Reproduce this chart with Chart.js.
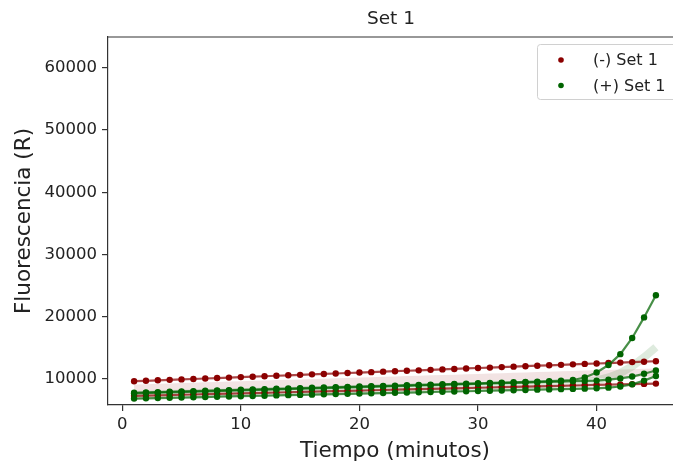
<!DOCTYPE html>
<html><head><meta charset="utf-8">
<script src="https://cdn.jsdelivr.net/npm/chart.js@4"></script>
<style>html,body{margin:0;padding:0;overflow:hidden;background:#fff;width:673px;height:462px}canvas{display:block}</style>
</head><body><canvas id="c" width="690" height="462" style="width:690px;height:462px"></canvas>
<script>
const time = [1,2,3,4,5,6,7,8,9,10,11,12,13,14,15,16,17,18,19,20,21,22,23,24,25,26,27,28,29,30,31,32,33,34,35,36,37,38,39,40,41,42,43,44,45];
const negSet1A = [9650,9720,9800,9870,9940,10010,10090,10160,10230,10310,10380,10450,10530,10600,10670,10750,10820,10890,10970,11040,11110,11190,11260,11330,11400,11480,11550,11620,11700,11770,11840,11920,11990,12060,12140,12210,12280,12360,12430,12500,12570,12640,12720,12790,12860];
const negSet1B = [7300,7340,7390,7430,7480,7520,7570,7610,7660,7700,7750,7790,7840,7880,7930,7970,8020,8060,8110,8150,8200,8240,8290,8330,8380,8420,8460,8510,8550,8600,8640,8690,8730,8780,8820,8870,8910,8960,9000,9050,9090,9130,9180,9220,9270];
const posSet1A = [7800,7850,7900,7960,8010,8060,8110,8170,8220,8270,8320,8380,8430,8480,8530,8590,8640,8690,8740,8800,8850,8900,8950,9010,9060,9110,9160,9220,9270,9320,9370,9430,9480,9530,9590,9650,9730,9850,10250,11050,12250,14000,16600,19900,23470];
const posSet1B = [7700,7750,7810,7860,7910,7960,8020,8070,8120,8170,8230,8280,8330,8380,8440,8490,8540,8590,8650,8700,8750,8800,8860,8910,8960,9020,9070,9120,9170,9230,9280,9330,9380,9440,9490,9540,9590,9650,9700,9750,9900,10100,10400,10850,11370];
const posSet1C = [6860,6900,6940,6990,7030,7070,7110,7160,7200,7240,7280,7320,7370,7410,7450,7490,7540,7580,7620,7660,7700,7750,7790,7830,7870,7920,7960,8000,8040,8080,8130,8170,8210,8250,8300,8340,8380,8420,8460,8510,8620,8800,9150,9750,10500];
const xTicks = [0,10,20,30,40];
const yTicks = [10000,20000,30000,40000,50000,60000];
const legendLabels = ['(-) Set 1','(+) Set 1'];
const titleText = 'Set 1';
const xTitle = 'Tiempo (minutos)';
const yTitle = 'Fluorescencia (R)';

const RED = 'rgb(139,0,0)', GREEN = 'rgb(0,100,0)';
const FONT = '"DejaVu Sans", sans-serif';
const TXT = '#222';
const AX = '#333';

const pts = arr => time.map((t,i)=>({x:t,y:arr[i]}));
const mean = arrs => time.map((t,i)=>({x:t,y:arrs.reduce((s,a)=>s+a[i],0)/arrs.length}));

function seriesDs(arr, col, lineCol, order){
  return {data:pts(arr), borderColor:lineCol, backgroundColor:col, pointBackgroundColor:col,
    pointBorderWidth:0, pointRadius:3.2, borderWidth:2.2, tension:0, order:order, fill:false};
}
function meanDs(arrs, col){
  return {data:mean(arrs), borderColor:col, borderWidth:8, pointRadius:0, tension:0, order:10, fill:false, borderCapStyle:'butt'};
}

const frame = {
  id:'frame',
  afterDraw(chart){
    const {ctx, chartArea:a} = chart;
    ctx.save();
    ctx.strokeStyle = AX; ctx.lineWidth = 1.2;
    ctx.beginPath();
    ctx.moveTo(a.left, a.top); ctx.lineTo(a.right, a.top);
    ctx.stroke();
    // title
    ctx.fillStyle = TXT; ctx.font = '18.5px ' + FONT;
    ctx.textAlign = 'center'; ctx.textBaseline = 'middle';
    ctx.fillText(titleText, 391, 19);
    // legend
    const bx = 537.5, by = 44.5, bw = 145, bh = 55, r = 3;
    ctx.beginPath();
    ctx.moveTo(bx + r, by); ctx.lineTo(bx + bw - r, by); ctx.arcTo(bx+bw, by, bx+bw, by+r, r);
    ctx.lineTo(bx+bw, by+bh-r); ctx.arcTo(bx+bw, by+bh, bx+bw-r, by+bh, r);
    ctx.lineTo(bx+r, by+bh); ctx.arcTo(bx, by+bh, bx, by+bh-r, r);
    ctx.lineTo(bx, by+r); ctx.arcTo(bx, by, bx+r, by, r);
    ctx.closePath();
    ctx.fillStyle = 'rgba(255,255,255,0.85)'; ctx.fill();
    ctx.strokeStyle = '#d0d0d0'; ctx.lineWidth = 1; ctx.stroke();
    const cols = [RED, GREEN], ys = [60, 85.5];
    ctx.font = '16px ' + FONT; ctx.textAlign = 'left'; ctx.textBaseline = 'middle';
    for (let i = 0; i < 2; i++){
      ctx.fillStyle = cols[i];
      ctx.beginPath(); ctx.arc(561, ys[i], 2.8, 0, Math.PI*2); ctx.fill();
      ctx.fillStyle = TXT; ctx.fillText(legendLabels[i], 593, ys[i] + 1);
    }
    ctx.restore();
  }
};

new Chart(document.getElementById('c'), {
  type:'line',
  data:{datasets:[
    seriesDs(posSet1A, GREEN, 'rgba(0,100,0,0.72)', 1),
    seriesDs(posSet1B, GREEN, 'rgba(0,100,0,0.72)', 1),
    seriesDs(posSet1C, GREEN, 'rgba(0,100,0,0.72)', 1),
    seriesDs(negSet1A, RED, 'rgba(139,0,0,0.72)', 5),
    seriesDs(negSet1B, RED, 'rgba(139,0,0,0.72)', 5),
    meanDs([posSet1A,posSet1B,posSet1C], 'rgba(0,100,0,0.13)'),
    meanDs([negSet1A,negSet1B], 'rgba(139,0,0,0.11)')
  ]},
  options:{
    responsive:false, animation:false, devicePixelRatio:1,
    layout:{padding:{left:0, right:8, top:37, bottom:0}},
    plugins:{legend:{display:false}, tooltip:{enabled:false}, title:{display:false}},
    scales:{
      x:{type:'linear', min:-1.2, max:47.2,
        afterBuildTicks:s=>{s.ticks = xTicks.map(v=>({value:v}));},
        afterFit:s=>{s.height = 57;},
        grid:{display:true, drawOnChartArea:false, drawTicks:true, tickLength:6, color:AX, lineWidth:1.2},
        border:{display:true, color:AX, width:1.2},
        ticks:{color:TXT, font:{family:FONT, size:16.5}, padding:4, maxRotation:0, autoSkip:false},
        title:{display:true, text:xTitle, color:TXT, font:{family:FONT, size:21.5, lineHeight:1}, padding:{top:0,bottom:0}}
      },
      y:{type:'linear', min:5830, max:64950,
        afterBuildTicks:s=>{s.ticks = yTicks.map(v=>({value:v}));},
        afterFit:s=>{s.width = 108;},
        grid:{display:true, drawOnChartArea:false, drawTicks:true, tickLength:6, color:AX, lineWidth:1.2},
        border:{display:true, color:AX, width:1.2},
        ticks:{color:TXT, font:{family:FONT, size:16.5}, padding:5, autoSkip:false, callback:v=>String(v)},
        title:{display:true, text:yTitle, color:TXT, font:{family:FONT, size:21.5, lineHeight:1}, padding:{top:14,bottom:0}}
      }
    }
  },
  plugins:[frame]
});
</script>
</body></html>
